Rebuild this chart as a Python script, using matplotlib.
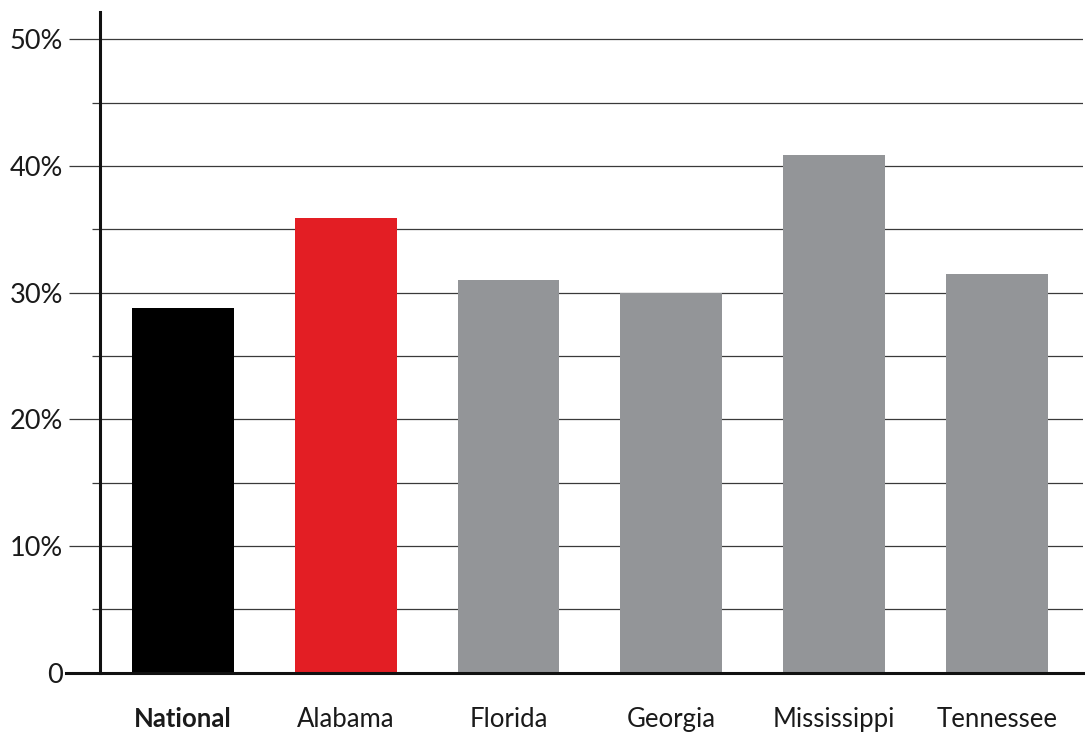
import matplotlib
matplotlib.use("Agg")
import matplotlib.pyplot as plt
from matplotlib.ticker import FixedLocator

categories = ["National", "Alabama", "Florida", "Georgia", "Mississippi", "Tennessee"]
values = [28.8, 35.9, 31.0, 30.0, 40.9, 31.5]
colors = ["#000000", "#e31e24", "#939598", "#939598", "#939598", "#939598"]
ytick_vals = [0, 10, 20, 30, 40, 50]
ytick_labels = ["0", "10%", "20%", "30%", "40%", "50%"]

plt.rcParams["font.family"] = ["Lato", "DejaVu Sans"]

fig = plt.figure(figsize=(10.85, 7.32), dpi=100)
ax = fig.add_axes([0.0919, 0.081, 0.906, 0.903])

x = list(range(len(categories)))
ax.bar(x, values, width=0.625, color=colors, zorder=3)

ax.set_xlim(-0.512, len(categories) - 1 + 0.528)
ax.set_ylim(0, 52.18)

ax.yaxis.set_major_locator(FixedLocator(ytick_vals))
ax.set_yticklabels(ytick_labels)
ax.yaxis.set_minor_locator(FixedLocator([5, 15, 25, 35, 45]))
ax.grid(axis="y", which="both", color="#3a3a3a", linewidth=0.9, zorder=1)
ax.set_axisbelow(True)

ax.tick_params(axis="y", which="major", length=22.5, width=0.9, color="#3a3a3a",
               pad=4.0, labelsize=19.5, labelcolor="#1a1a1a")
ax.tick_params(axis="y", which="minor", length=5.5, width=0.9, color="#3a3a3a")

ax.set_xticks(x)
ax.set_xticklabels(categories)
ax.tick_params(axis="x", length=0, pad=25, labelsize=18.5, labelcolor="#1a1a1a")
ax.get_xticklabels()[0].set_fontweight("bold")

for s in ["top", "right", "bottom"]:
    ax.spines[s].set_visible(False)
ax.spines["left"].set_linewidth(2.2)
ax.spines["left"].set_color("#111111")

ax.axhline(0, xmin=-0.0345, xmax=1.0, color="#111111", linewidth=2.2,
           clip_on=False, zorder=4)

fig.savefig("out.png", dpi=100)
